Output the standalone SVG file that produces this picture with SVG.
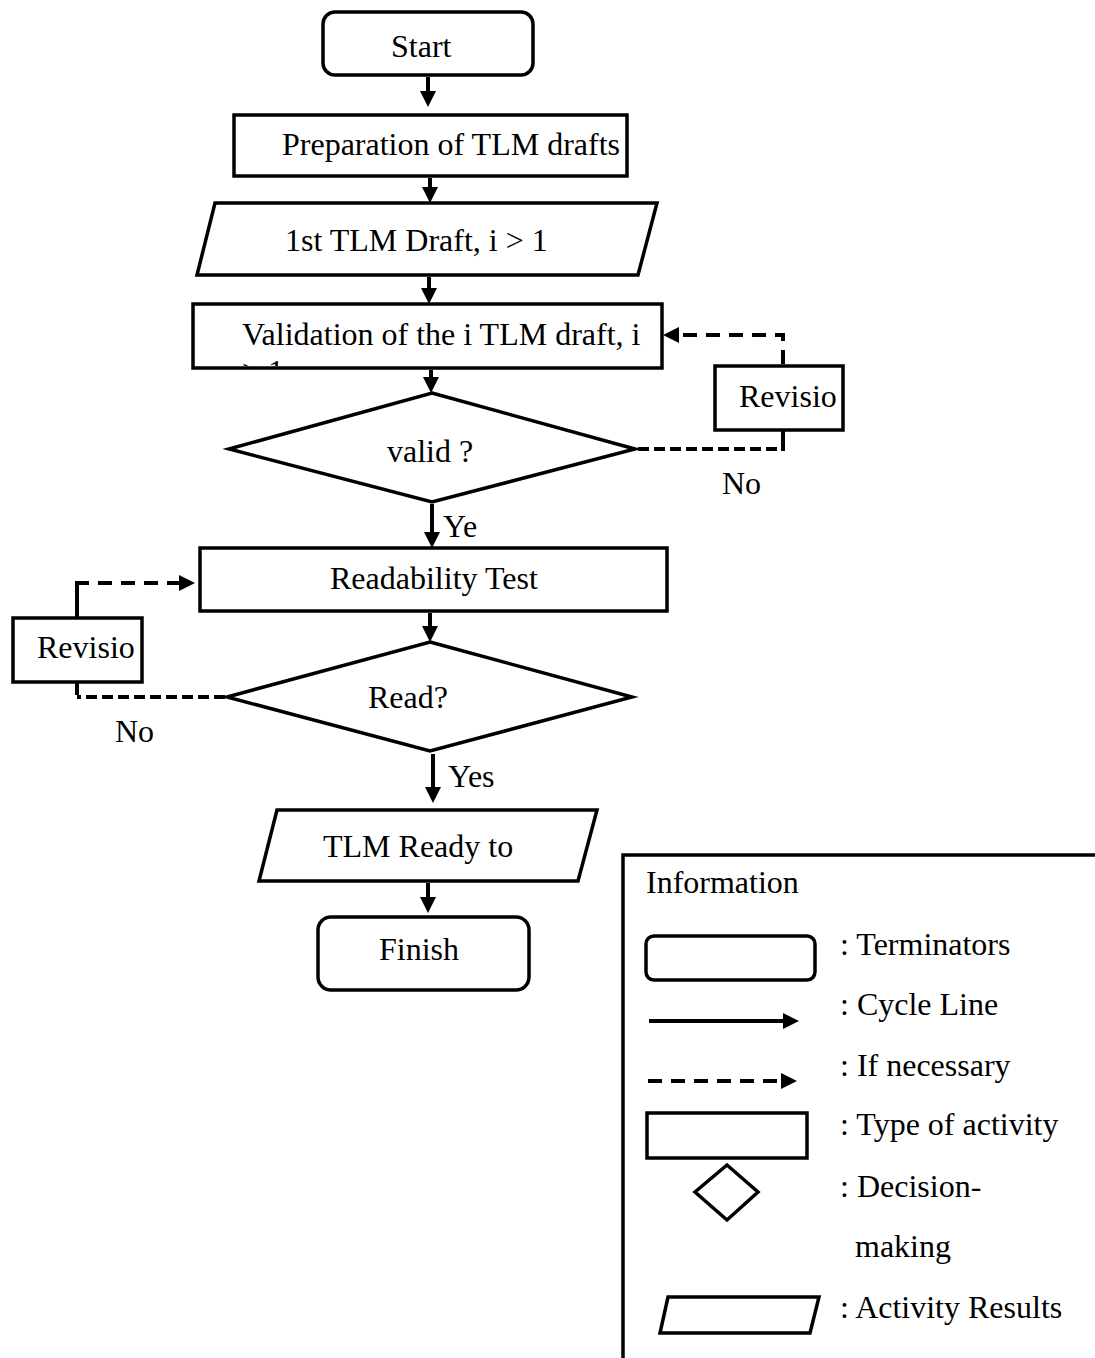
<svg xmlns="http://www.w3.org/2000/svg" width="1095" height="1358" viewBox="0 0 1095 1358">
  <style>
    .shape { fill: #ffffff; stroke: #000000; stroke-width: 3.5; stroke-linejoin: miter; }
    .lbl { font-family: "Liberation Serif", "Times New Roman", serif; font-size: 32px; fill: #000000; }
    .flow { fill: none; stroke: #000000; stroke-width: 4; }
    .dash { fill: none; stroke: #000000; stroke-width: 4; stroke-dasharray: 14 9; }
    .dash2 { fill: none; stroke: #000000; stroke-width: 4; stroke-dasharray: 11 5; }
  </style>
  <defs>
    <marker id="head" markerUnits="userSpaceOnUse" markerWidth="17" markerHeight="17" refX="12" refY="8" orient="auto" viewBox="0 0 17 17">
      <path d="M0,0 L16,8 L0,16 Z" fill="#000000"/>
    </marker>
    <clipPath id="validClip">
      <rect x="195" y="306" width="465" height="60"/>
    </clipPath>
  </defs>

  <rect width="1095" height="1358" fill="#ffffff"/>

  <!-- flowchart nodes -->
  <g id="start">
    <rect class="shape" x="323" y="12" width="210" height="63" rx="12"/>
    <text class="lbl" x="391" y="57">Start</text>
  </g>
  <g id="preparation">
    <rect class="shape" x="234" y="115" width="393" height="61"/>
    <text class="lbl" x="282" y="155">Preparation of TLM drafts</text>
  </g>
  <g id="first-draft">
    <polygon class="shape" points="215,203 657,203 638,275 197,275"/>
    <text class="lbl" x="285" y="251">1st TLM Draft, i &gt; 1</text>
  </g>
  <g id="validation">
    <rect class="shape" x="193" y="304" width="469" height="64"/>
    <text class="lbl" x="242" y="345">Validation of the i TLM draft, i</text>
    <text class="lbl" x="242" y="382" clip-path="url(#validClip)">&gt; 1</text>
  </g>
  <g id="valid-decision">
    <polygon class="shape" points="432,393 635,449 432,502 229,449"/>
    <text class="lbl" x="387" y="462">valid ?</text>
  </g>
  <g id="revision-right">
    <rect class="shape" x="715" y="366" width="128" height="64"/>
    <text class="lbl" x="739" y="407">Revisio</text>
  </g>
  <g id="readability">
    <rect class="shape" x="200" y="548" width="467" height="63"/>
    <text class="lbl" x="330" y="589">Readability Test</text>
  </g>
  <g id="read-decision">
    <polygon class="shape" points="430,642 632,697 430,751 227,697"/>
    <text class="lbl" x="368" y="708">Read?</text>
  </g>
  <g id="revision-left">
    <rect class="shape" x="13" y="618" width="129" height="64"/>
    <text class="lbl" x="37" y="658">Revisio</text>
  </g>
  <g id="ready">
    <polygon class="shape" points="277,810 597,810 578,881 259,881"/>
    <text class="lbl" x="323" y="857">TLM Ready to</text>
  </g>
  <g id="finish">
    <rect class="shape" x="318" y="917" width="211" height="73" rx="13"/>
    <text class="lbl" x="379" y="960">Finish</text>
  </g>

  <!-- connectors -->
  <g id="connectors">
    <path class="flow" d="M428,77 V103" marker-end="url(#head)"/>
    <path class="flow" d="M430,178 V199" marker-end="url(#head)"/>
    <path class="flow" d="M429,277 V300" marker-end="url(#head)"/>
    <path class="flow" d="M431,370 V389" marker-end="url(#head)"/>
    <path class="flow" d="M432,504 V544" marker-end="url(#head)"/>
    <path class="flow" d="M430,613 V638" marker-end="url(#head)"/>
    <path class="flow" d="M433,754 V799" marker-end="url(#head)"/>
    <path class="flow" d="M428,883 V909" marker-end="url(#head)"/>

    <!-- "No" loop on the right -->
    <path class="dash2" d="M638,449 H783"/>
    <path class="flow" d="M783,431 V451"/>
    <path class="dash" d="M783,364 V335 H667" marker-end="url(#head)"/>
    <text class="lbl" x="722" y="494">No</text>
    <text class="lbl" x="443" y="537">Ye</text>

    <!-- "No" loop on the left -->
    <path class="dash2" d="M225,697 H77"/>
    <path class="flow" d="M77,683 V695"/>
    <path class="flow" d="M77,617 V581"/>
    <path class="dash" d="M75,583 H191" marker-end="url(#head)"/>
    <text class="lbl" x="115" y="742">No</text>
    <text class="lbl" x="448" y="787">Yes</text>
  </g>

  <!-- legend -->
  <g id="legend">
    <rect class="shape" x="623" y="855" width="500" height="600"/>
    <text class="lbl" x="646" y="893">Information</text>

    <rect class="shape" x="646" y="936" width="169" height="44" rx="8"/>
    <text class="lbl" x="840" y="955">: Terminators</text>

    <path class="flow" d="M649,1021 H795" marker-end="url(#head)"/>
    <text class="lbl" x="840" y="1015">: Cycle Line</text>

    <path class="dash" d="M648,1081 H793" marker-end="url(#head)"/>
    <text class="lbl" x="840" y="1076">: If necessary</text>

    <rect class="shape" x="647" y="1113" width="160" height="45"/>
    <text class="lbl" x="840" y="1135">: Type of activity</text>

    <polygon class="shape" points="727,1165 758,1192 727,1220 695,1192"/>
    <text class="lbl" x="840" y="1197">: Decision-</text>
    <text class="lbl" x="855" y="1257">making</text>

    <polygon class="shape" points="668,1297 819,1297 810,1333 660,1333"/>
    <text class="lbl" x="840" y="1318">: Activity Results</text>
  </g>
</svg>
